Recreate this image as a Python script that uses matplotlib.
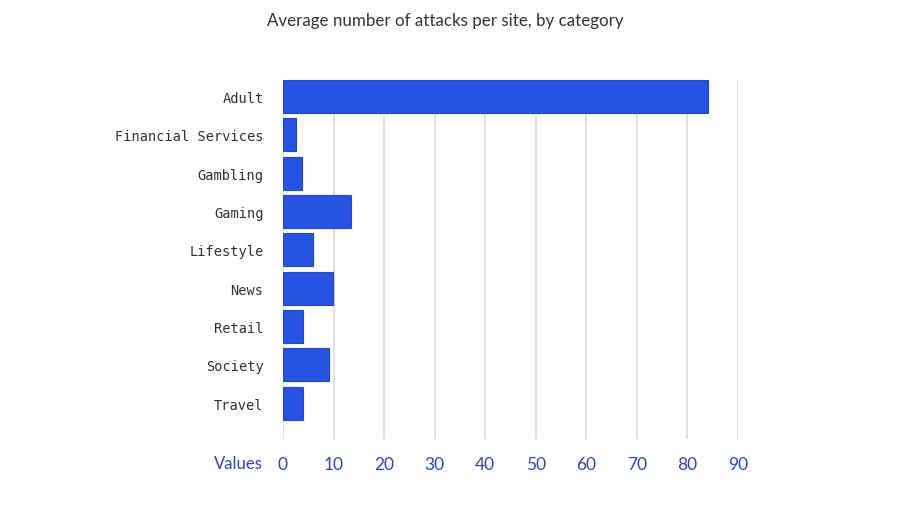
import matplotlib
matplotlib.use("Agg")
import matplotlib.pyplot as plt

categories = ["Adult", "Financial Services", "Gambling", "Gaming", "Lifestyle",
              "News", "Retail", "Society", "Travel"]
values = [84.0, 2.6, 3.7, 13.4, 5.9, 9.8, 4.0, 9.0, 4.0]
xticks = [0, 10, 20, 30, 40, 50, 60, 70, 80, 90]
title = "Average number of attacks per site, by category"
xlabel = "Values"

fig = plt.figure(figsize=(9, 5.06), dpi=100)
ax = fig.add_axes([283/900, 1-440/506, (738-283)/900, (440-81)/506])

ypos = list(range(len(categories)))
ax.barh(ypos, values, height=0.86, color="#2753e4", edgecolor="#1f46cc",
        linewidth=0.8, zorder=3)

ax.set_xlim(0, 90)
ax.set_ylim(8.93, -0.43)
ax.set_xticks(xticks)
ax.set_xticklabels([str(t) for t in xticks], fontsize=12.5, color="#2b47c9",
                   family="Lato")
ax.set_yticks(ypos)
ax.set_yticklabels(categories, fontsize=9.8, color="#333333",
                   family="DejaVu Sans Mono")
ax.tick_params(axis="y", length=0, pad=14)
ax.tick_params(axis="x", length=0, pad=12)
ax.grid(axis="x", color="#dddddd", linewidth=1.3, zorder=0)
ax.grid(axis="y", visible=False)
for s in ax.spines.values():
    s.set_visible(False)

fig.text(263/900, 1-464/506, xlabel, ha="right", va="center", fontsize=12,
         color="#2b47c9", family="Lato")
fig.text(445/900, 1-21/506, title, ha="center", va="center", fontsize=12.2,
         color="#333333", family="Lato")

fig.savefig("out.png", dpi=100)
